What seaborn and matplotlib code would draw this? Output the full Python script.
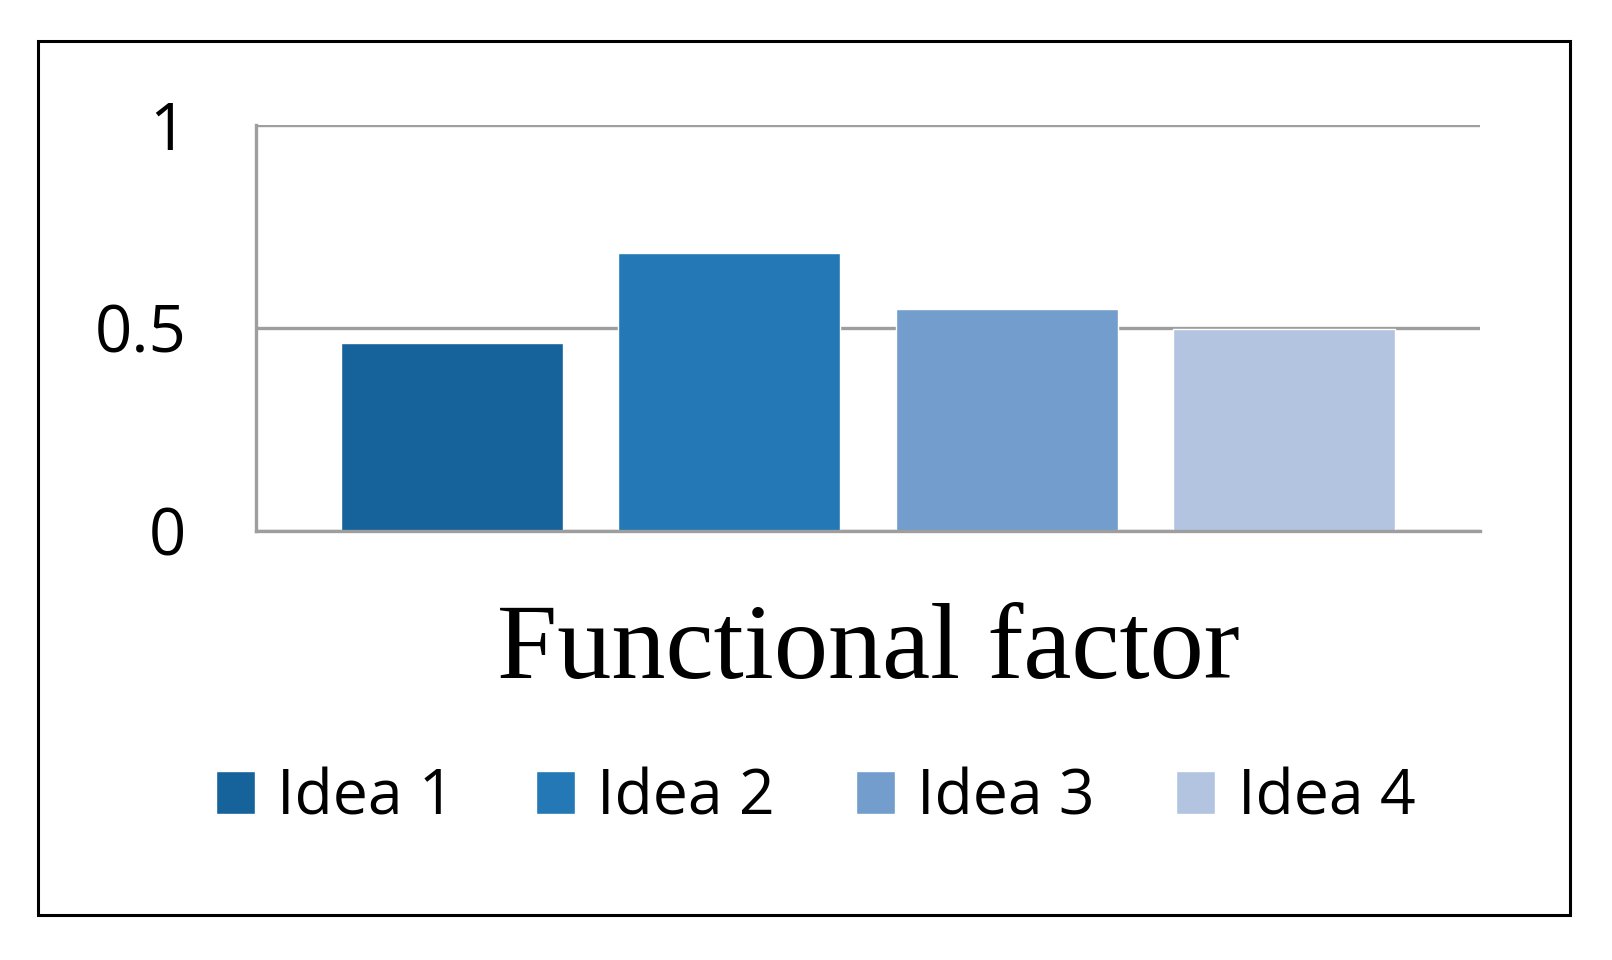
import matplotlib
matplotlib.use('Agg')
import matplotlib.pyplot as plt
from matplotlib.patches import Rectangle
import pandas as pd
import seaborn as sns

# Chart data
ideas = ['Idea 1', 'Idea 2', 'Idea 3', 'Idea 4']
scores = [0.464, 0.685, 0.546, 0.497]
factor = 'Functional factor'
y_ticks = [0, 0.5, 1]
y_tick_labels = ['0', '0.5', '1']
bar_colors = ['#16629a', '#2378b5', '#729dcc', '#b2c4df']

df = pd.DataFrame({'idea': ideas, 'score': scores})

sns.set_theme(style='white')
plt.rcParams['font.family'] = ['Open Sans', 'DejaVu Sans']
plt.rcParams['text.color'] = 'black'
plt.rcParams['ytick.color'] = 'black'
plt.rcParams['axes.labelcolor'] = 'black'

fig = plt.figure(figsize=(16.12, 9.6), dpi=100)
ax = fig.add_axes([256 / 1612, 1 - 530.5 / 960, (1480 - 256) / 1612, (530.5 - 125.4) / 960])

sns.barplot(data=df, x='idea', y='score', hue='idea', palette=bar_colors,
            width=0.8, saturation=1, ax=ax, legend=True)

ax.set_ylim(0, 1)
ax.set_xlim(-0.707, 3.707)
ax.set_yticks(y_ticks)
ax.set_yticklabels(y_tick_labels, fontsize=47, color='black', va='center_baseline')
ax.tick_params(axis='y', length=0, pad=50)
ax.set_xticks([])
ax.set_ylabel('')
ax.set_xlabel(factor, family=['Liberation Serif', 'DejaVu Serif'], fontsize=78,
              color='black', labelpad=52)

ax.set_axisbelow(True)
ax.yaxis.grid(True, color='#9e9e9e', lw=2.4)
for side in ['top', 'right']:
    ax.spines[side].set_visible(False)
for side in ['left', 'bottom']:
    ax.spines[side].set_color('#9e9e9e')
    ax.spines[side].set_linewidth(2.4)

handles, labels = ax.get_legend_handles_labels()
ax.get_legend().remove()
fig.legend(handles, labels, loc='center', bbox_to_anchor=(0.506, 1 - 798 / 960),
           ncol=4, frameon=False, fontsize=45, handlelength=0.62, handleheight=0.7,
           handletextpad=0.36, columnspacing=1.3, labelcolor='black')

# outer frame around the whole chart
fig.patches.append(Rectangle((38 / 1612, 1 - 915 / 960), (1570 - 38) / 1612, (915 - 41) / 960,
                             transform=fig.transFigure, fill=False, lw=2.2, ec='black'))

fig.savefig('out.png', dpi=100)
